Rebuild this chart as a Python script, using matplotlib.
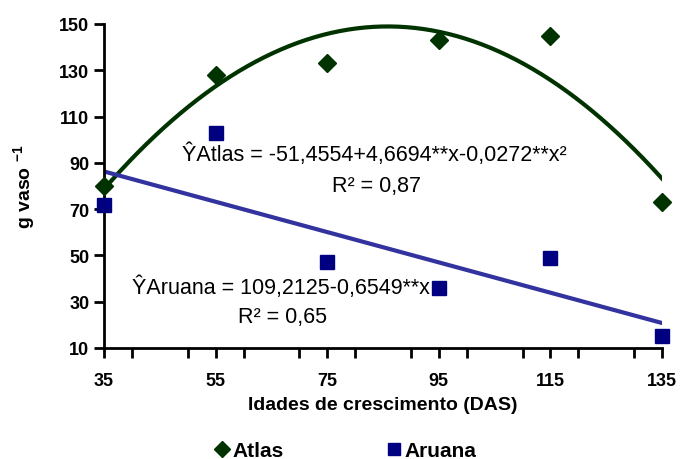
import numpy as np
import matplotlib
matplotlib.use("Agg")
import matplotlib.pyplot as plt
from matplotlib.ticker import MultipleLocator

plt.rcParams['font.family'] = ['Liberation Sans', 'DejaVu Sans']
plt.rcParams['mathtext.default'] = 'regular'

# dados
das = [35, 55, 75, 95, 115, 135]
atlas = [80, 128, 133, 143, 145, 73]
aruana = [72, 103, 47, 36, 49, 15]

# coeficientes das equacoes ajustadas
coef_atlas = [-51.4554, 4.6694, -0.0272]
coef_aruana = [109.2125, -0.6549]

x_ticks = [35, 55, 75, 95, 115, 135]
y_ticks = [10, 30, 50, 70, 90, 110, 130, 150]

green = '#003300'
navy = '#000080'
blue_line = '#3333a0'

fig = plt.figure(figsize=(6.8, 4.6), dpi=100)
ax = fig.add_axes([104/680, 1-349/460, 558/680, 324/460])

xs = np.linspace(35, 135, 200)
y_atlas = coef_atlas[0] + coef_atlas[1]*xs + coef_atlas[2]*xs**2
y_aruana = coef_aruana[0] + coef_aruana[1]*xs

ax.plot(xs, y_atlas, color=green, lw=3, zorder=2)
ax.plot(xs, y_aruana, color=blue_line, lw=3, zorder=2)

ax.plot(das, atlas, 'D', color=green, ms=9, clip_on=False, zorder=3, label='Atlas')
ax.plot(das, aruana, 's', color=navy, ms=9.5, clip_on=False, zorder=3, label='Aruana')

ax.set_xlim(35, 135)
ax.set_ylim(10, 150)
ax.set_xticks(x_ticks)
ax.set_yticks(y_ticks)
ax.xaxis.set_minor_locator(MultipleLocator(10))
ax.tick_params(axis='both', which='both', direction='out', length=7, width=2, labelsize=13)
ax.tick_params(axis='x', pad=10)
for lab in ax.get_xticklabels() + ax.get_yticklabels():
    lab.set_fontweight('bold')

for s in ['top', 'right']:
    ax.spines[s].set_visible(False)
for s in ['left', 'bottom']:
    ax.spines[s].set_linewidth(2)

ax.set_xlabel('Idades de crescimento (DAS)', fontsize=14, fontweight='bold', labelpad=5)
ax.set_ylabel('g vaso $^{-1}$', fontsize=14, fontweight='bold', labelpad=16)

# equacoes
fig.text(182/680, 1-155/460, 'ŶAtlas = -51,4554+4,6694**x-0,0272**x²', fontsize=15.5, va='center')
fig.text(377/680, 1-187/460, 'R² = 0,87', fontsize=15.5, ha='center', va='center')
fig.text(132/680, 1-288/460, 'ŶAruana = 109,2125-0,6549**x', fontsize=15.5, va='center')
fig.text(282/680, 1-318/460, 'R² = 0,65', fontsize=15.5, ha='center', va='center')

leg = fig.legend(loc='center', bbox_to_anchor=(345/680, 1-452/460), ncol=2,
                 frameon=False, prop={'weight': 'bold', 'size': 15},
                 handletextpad=0.1, columnspacing=4.9, handlelength=0.8, markerscale=0.9)

fig.savefig('out.png', dpi=100)
